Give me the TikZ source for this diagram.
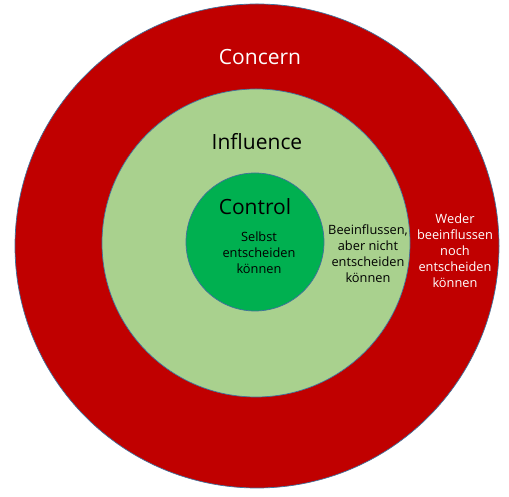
\documentclass[tikz,border=0pt]{standalone}
\usepackage{fontspec}
\setmainfont{Open Sans}
\definecolor{concernred}{HTML}{C00000}
\definecolor{influgreen}{HTML}{A9D18E}
\definecolor{ctrlgreen}{HTML}{00B050}
\definecolor{rimblue}{HTML}{41719C}
\begin{document}
\begin{tikzpicture}[x=1pt,y=1pt,
  ring/.style={draw=rimblue,line width=0.7pt},
  title/.style={inner sep=0pt,font=\fontsize{21}{25}\selectfont},
  small/.style={inner sep=0pt,align=center,font=\fontsize{12.8}{16}\selectfont}]
\useasboundingbox (0,0) rectangle (509,497);
\fill[white] (0,0) rectangle (509,497);
\draw[ring,fill=concernred] (257,251) circle (242);
\draw[ring,fill=influgreen] (256,254) circle (154);
\draw[ring,fill=ctrlgreen] (255,255) circle (69);
\node[title,text=white] (concern) at (260,440) {Concern};
\node[title,text=black] (influence) at (257,355) {Influence};
\node[title,text=black] (control) at (255,290) {Control};
\node[small,text=black] (ctrltext) at (259,244) {Selbst\\entscheiden\\können};
\node[small,text=black] (inftext) at (368,243.5) {Beeinflussen,\\aber nicht\\entscheiden\\können};
\node[small,text=white] (context) at (455,246) {Weder\\beeinflussen\\noch\\entscheiden\\können};
\end{tikzpicture}
\end{document}
